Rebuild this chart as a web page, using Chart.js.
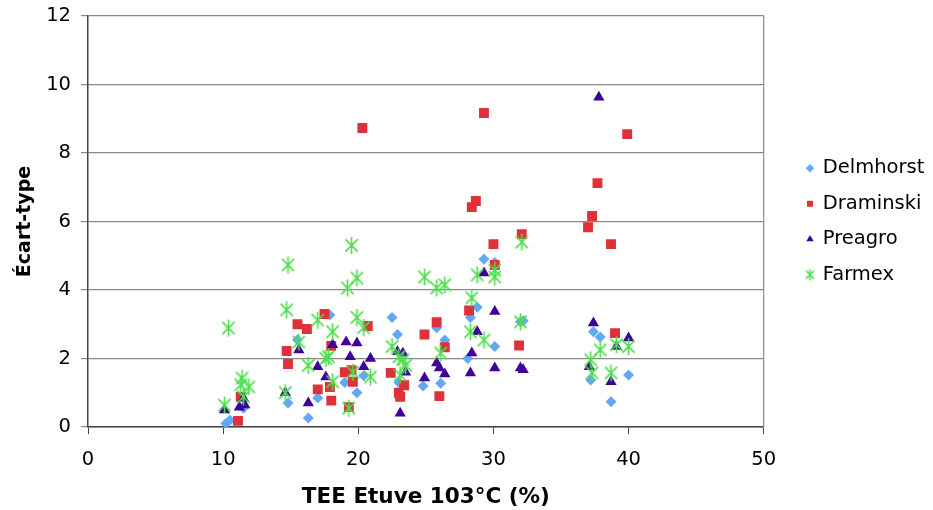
<!DOCTYPE html>
<html>
<head>
<meta charset="utf-8">
<script src="https://cdn.jsdelivr.net/npm/chart.js@4.4.0/dist/chart.umd.min.js"></script>
<style>
  html, body { margin: 0; padding: 0; background: #fff; }
</style>
</head>
<body>
<canvas id="myChart" width="933" height="510"></canvas>
<script>
var seriesNames = ['Delmhorst', 'Draminski', 'Preagro', 'Farmex'];

var delmhorstX = [10.2, 10.5, 11.5, 14.8, 16.3, 17.0, 15.5, 17.9, 22.5, 22.9, 19.9, 19.0, 20.4, 23.0, 24.8, 26.1, 25.8, 26.4, 29.3, 30.1, 28.8, 28.3, 30.1, 28.1, 32.0, 32.2, 37.4, 37.9, 37.2, 40.0, 38.7];
var delmhorstY = [0.1, 0.2, 0.55, 0.7, 0.26, 0.85, 2.55, 3.27, 3.2, 2.7, 1.0, 1.3, 1.5, 1.3, 1.2, 1.28, 2.9, 2.54, 4.9, 4.8, 3.5, 3.2, 2.35, 2.0, 3.07, 3.1, 2.78, 2.63, 1.37, 1.52, 0.74];

var draminskiX = [20.3, 29.3, 28.7, 28.4, 37.7, 37.3, 37.0, 32.1, 30.0, 39.9, 38.7, 30.1, 17.5, 15.5, 16.2, 20.7, 14.7, 14.8, 18.0, 19.0, 19.5, 19.6, 17.0, 18.0, 17.9, 19.3, 11.1, 11.3, 22.4, 23.0, 23.1, 23.4, 24.9, 25.8, 26.4, 26.0, 28.2, 31.9, 39.0];
var draminskiY = [8.73, 9.17, 6.6, 6.42, 7.12, 6.16, 5.83, 5.63, 5.34, 8.55, 5.34, 4.73, 3.3, 3.0, 2.86, 2.95, 2.22, 1.84, 2.37, 1.6, 1.66, 1.32, 1.1, 0.77, 1.17, 0.58, 0.18, 0.88, 1.58, 1.0, 0.88, 1.22, 2.7, 3.06, 2.33, 0.9, 3.4, 2.38, 2.74];

var preagroX = [37.8, 10.1, 11.2, 11.6, 11.5, 14.6, 15.6, 16.3, 18.1, 17.0, 17.6, 19.1, 19.4, 19.9, 20.9, 20.4, 23.1, 23.3, 22.9, 23.5, 24.9, 25.8, 26.0, 26.4, 28.3, 28.4, 28.8, 30.1, 29.3, 30.1, 32.0, 32.2, 37.4, 39.1, 40.0, 37.1, 38.7];
var preagroY = [9.63, 0.5, 0.58, 0.64, 0.85, 1.0, 2.25, 0.7, 2.4, 1.76, 1.46, 2.48, 2.05, 2.45, 2.0, 1.76, 0.4, 2.15, 2.2, 1.6, 1.43, 1.87, 1.72, 1.55, 1.58, 2.16, 2.78, 3.37, 4.5, 1.72, 1.72, 1.67, 3.04, 2.35, 2.6, 1.76, 1.32];

var farmexX = [10.1, 10.4, 11.4, 11.3, 11.9, 11.5, 14.8, 14.7, 14.6, 15.6, 16.3, 17.0, 18.1, 17.6, 17.8, 18.1, 19.2, 19.9, 19.5, 19.9, 20.4, 19.6, 19.3, 20.9, 22.5, 23.0, 23.3, 23.5, 23.1, 26.1, 24.9, 25.8, 26.4, 28.4, 28.8, 30.1, 30.1, 28.3, 29.3, 32.0, 32.1, 37.2, 37.9, 39.1, 40.0, 37.3, 38.7];
var farmexY = [0.64, 2.89, 1.43, 1.23, 1.17, 0.88, 4.73, 3.42, 1.0, 2.48, 1.8, 3.12, 2.78, 2.0, 2.05, 1.32, 4.06, 4.35, 5.3, 3.2, 2.9, 1.6, 0.55, 1.46, 2.35, 2.05, 1.96, 1.8, 1.52, 2.16, 4.38, 4.06, 4.15, 3.77, 4.44, 4.38, 4.58, 2.78, 2.54, 3.07, 5.4, 1.96, 2.25, 2.4, 2.35, 1.58, 1.58];

var xTicks = [0, 10, 20, 30, 40, 50];
var yTicks = [0, 2, 4, 6, 8, 10, 12];

function toPoints(xs, ys) {
    return xs.map(function (x, i) { return { x: x, y: ys[i] }; });
}

/* asterisk marker like the Excel one: vertical bar + X */
function makeAsterisk(size, color) {
    var c = document.createElement('canvas');
    c.width = size; c.height = size;
    var g = c.getContext('2d');
    var m = size / 2, r = size / 2 - 1;
    g.strokeStyle = color;
    g.lineWidth = 1.6;
    g.beginPath();
    g.moveTo(m, m - r); g.lineTo(m, m + r);
    g.moveTo(m - r * 0.72, m - r * 0.72); g.lineTo(m + r * 0.72, m + r * 0.72);
    g.moveTo(m + r * 0.72, m - r * 0.72); g.lineTo(m - r * 0.72, m + r * 0.72);
    g.stroke();
    return c;
}

var font = "'DejaVu Sans', Verdana, sans-serif";
var asterisk = makeAsterisk(19, '#4cdf4c');
var asteriskSmall = makeAsterisk(13, '#4cdf4c');

/* grey right edge of the plot area, and leave a gap before the legend */
var plotFrame = {
    id: 'plotFrame',
    afterLayout: function (chart) {
        var lg = chart.legend;
        var shift = 791 - lg.left;
        lg.left += shift;
        lg.right += shift;
    },
    afterDraw: function (chart) {
        var a = chart.chartArea, c = chart.ctx;
        c.save();
        c.strokeStyle = '#888';
        c.lineWidth = 1.2;
        c.beginPath();
        c.moveTo(a.right, a.top);
        c.lineTo(a.right, a.bottom);
        c.stroke();
        c.restore();
    }
};

var ctx = document.getElementById('myChart');
var chart = new Chart(ctx, {
    type: 'scatter',
    plugins: [plotFrame],
    data: {
        datasets: [{
            label: seriesNames[0],
            data: toPoints(delmhorstX, delmhorstY),
            pointStyle: 'rectRot',
            pointRadius: 5.5,
            backgroundColor: '#62a8f6',
            borderColor: '#62a8f6',
            borderWidth: 0,
            order: 4
        }, {
            label: seriesNames[1],
            data: toPoints(draminskiX, draminskiY),
            pointStyle: 'rect',
            pointRadius: 7,
            backgroundColor: '#e0303a',
            borderColor: '#e0303a',
            borderWidth: 0,
            order: 3
        }, {
            label: seriesNames[2],
            data: toPoints(preagroX, preagroY),
            pointStyle: 'triangle',
            pointRadius: 6.5,
            backgroundColor: '#40009a',
            borderColor: '#40009a',
            borderWidth: 0,
            order: 2
        }, {
            label: seriesNames[3],
            data: toPoints(farmexX, farmexY),
            pointStyle: asterisk,
            pointRadius: 9,
            backgroundColor: '#4cdf4c',
            borderColor: '#4cdf4c',
            order: 1
        }]
    },
    options: {
        responsive: false,
        animation: false,
        layout: { padding: { top: 0, right: 26, left: 10, bottom: 0 } },
        plugins: {
            tooltip: { enabled: false },
            legend: {
                position: 'right',
                fullSize: false,
                labels: {
                    usePointStyle: true,
                    boxHeight: 6,
                    boxWidth: 6,
                    color: '#000',
                    font: { family: font, size: 19.5 },
                    padding: 16,
                    sort: function (a, b) { return a.datasetIndex - b.datasetIndex; },
                    generateLabels: function (chart) {
                        var items = Chart.defaults.plugins.legend.labels.generateLabels(chart);
                        items.forEach(function (it) {
                            if (it.datasetIndex === 3) it.pointStyle = asteriskSmall;
                        });
                        return items;
                    }
                }
            }
        },
        scales: {
            x: {
                type: 'linear',
                min: 0, max: 50,
                afterBuildTicks: function (s) { s.ticks = xTicks.map(function (v) { return { value: v }; }); },
                afterFit: function (s) { s.height = 83; },
                grid: { drawOnChartArea: false, drawTicks: true, tickLength: 7, color: '#444' },
                border: { color: '#444', width: 1.5 },
                ticks: { color: '#000', font: { family: font, size: 19.5 }, padding: 14 },
                title: {
                    display: true, text: 'TEE Etuve 103°C (%)', color: '#000',
                    font: { family: font, size: 21.5, weight: 'bold' }, padding: { top: 4, bottom: 0 }
                }
            },
            y: {
                type: 'linear',
                min: 0, max: 12,
                afterBuildTicks: function (s) { s.ticks = yTicks.map(function (v) { return { value: v }; }); },
                afterFit: function (s) { s.width = 78; s.paddingTop = 16; },
                grid: { color: '#888', lineWidth: 1.2, drawTicks: true, tickLength: 7 },
                border: { color: '#444', width: 1.5 },
                ticks: { color: '#000', font: { family: font, size: 19.5 }, padding: 10 },
                title: {
                    display: true, text: 'Écart-type', color: '#000',
                    font: { family: font, size: 19, weight: 'bold' }, padding: { bottom: 4 }
                }
            }
        }
    }
});
</script>
</body>
</html>
